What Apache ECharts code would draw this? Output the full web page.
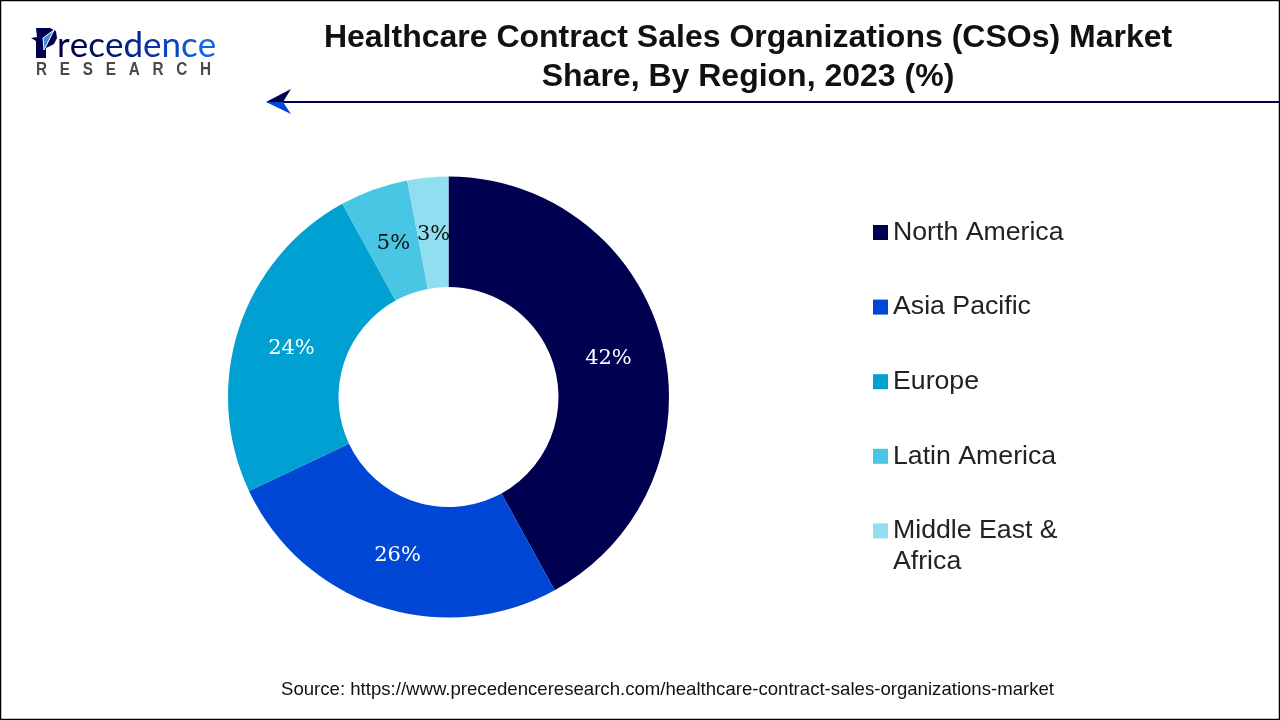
<!DOCTYPE html>
<html>
<head>
<meta charset="utf-8">
<style>html,body{margin:0;padding:0;background:#fff}#main{width:1280px;height:720px}</style>
<script src="https://cdn.jsdelivr.net/npm/echarts@6/dist/echarts.min.js"></script>
</head>
<body>
<div id="main"></div>
<script>
var regions = ['North America', 'Asia Pacific', 'Europe', 'Latin America', 'Middle East & Africa'];
var shares = [42, 26, 24, 5, 3];
var colors = ['#000050', '#0047d6', '#00a0d2', '#48c6e4', '#90deef'];
var labelColors = ['#fff', '#fff', '#fff', '#111', '#111'];
var titleText = 'Healthcare Contract Sales Organizations (CSOs) Market\nShare, By Region, 2023 (%)';
var sourceText = 'Source: https://www.precedenceresearch.com/healthcare-contract-sales-organizations-market';
var logoWord = 'recedence';
var logoColors = ['#000050', '#000050', '#00105f', '#001a78', '#06258f', '#0a34a8', '#0d45c0', '#1155d4', '#1565e0'];

var chart = echarts.init(document.getElementById('main'));

var pieData = [];
for (var i = 0; i < regions.length; i++) {
    pieData.push({
        name: regions[i],
        value: shares[i],
        itemStyle: { color: colors[i] },
        label: { color: labelColors[i] }
    });
}

// small label nudges so they sit where the reference has them
var labelNudge = [[-3, 3], [1, -1], [3, 4], [2, 5], [1, 5]];

// logo wordmark, one rich style per letter for the navy to blue fade
var logoRich = {};
var logoText = '';
for (var j = 0; j < logoWord.length; j++) {
    logoRich['l' + j] = { fill: logoColors[j], font: '35px Lato' };
    logoText += '{l' + j + '|' + logoWord.charAt(j) + '}';
}

chart.setOption({
    animation: false,
    backgroundColor: '#fff',
    title: {
        text: titleText,
        left: 743,
        top: 14,
        textAlign: 'center',
        textStyle: {
            fontFamily: 'Liberation Sans',
            fontSize: 32,
            fontWeight: 'bold',
            color: '#111',
            lineHeight: 39
        }
    },
    legend: {
        orient: 'vertical',
        left: 868,
        top: 214,
        icon: 'rect',
        itemWidth: 15,
        itemHeight: 15,
        itemGap: 47.6,
        itemStyle: { borderWidth: 0 },
        selectedMode: false,
        data: regions,
        formatter: function (name) {
            return name === 'Middle East & Africa' ? 'Middle East &' : name;
        },
        textStyle: {
            fontFamily: 'Liberation Sans',
            fontSize: 26.7,
            color: '#222'
        }
    },
    series: [{
        type: 'pie',
        center: [448.5, 397],
        radius: [110, 220.5],
        startAngle: 90,
        clockwise: true,
        silent: true,
        data: pieData,
        label: {
            position: 'inside',
            formatter: '{c}%',
            fontFamily: 'DejaVu Serif',
            fontSize: 21
        },
        labelLine: { show: false },
        labelLayout: function (params) {
            return { dx: labelNudge[params.dataIndex][0], dy: labelNudge[params.dataIndex][1] };
        }
    }],
    graphic: [
        { type: 'rect', shape: { x: 0.5, y: 0.5, width: 1279, height: 719 }, style: { fill: 'none', stroke: '#000', lineWidth: 1.5 } },
        // arrow under the title
        { type: 'line', shape: { x1: 280, y1: 102, x2: 1280, y2: 102 }, style: { stroke: '#000050', lineWidth: 2 } },
        { type: 'polygon', shape: { points: [[266, 102], [291, 89], [283, 102]] }, style: { fill: '#000050' } },
        { type: 'polygon', shape: { points: [[266, 102], [291, 114], [283, 102]] }, style: { fill: '#0047d6' } },
        // logo
        { type: 'polygon', shape: { points: [[36, 28], [50, 28], [56, 31], [57, 38], [54, 44], [46, 48], [46, 58], [36, 58], [36, 41], [31, 38], [37, 37]] }, style: { fill: '#000050' } },
        { type: 'polygon', shape: { points: [[54, 30], [44, 50], [43, 38]] }, style: { fill: '#3a8ae0', stroke: '#fff', lineWidth: 1 } },
        { type: 'text', style: { x: 57, y: 28, text: logoText, rich: logoRich } },
        { type: 'text', x: 36, y: 61, scaleX: 0.85, style: { x: 0, y: 0, text: 'R   E   S   E   A   R   C   H', fontFamily: 'Liberation Sans', fontWeight: 'bold', fontSize: 18, fill: '#4a4a4a' } },
        // second line of the last legend entry
        { type: 'text', style: { x: 893, y: 548, text: 'Africa', fontFamily: 'Liberation Sans', fontSize: 26.7, fill: '#222' } },
        { type: 'text', style: { x: 667.5, y: 680, text: sourceText, align: 'center', fontFamily: 'Liberation Sans', fontSize: 18.6, fill: '#111' } }
    ]
});
</script>
</body>
</html>
